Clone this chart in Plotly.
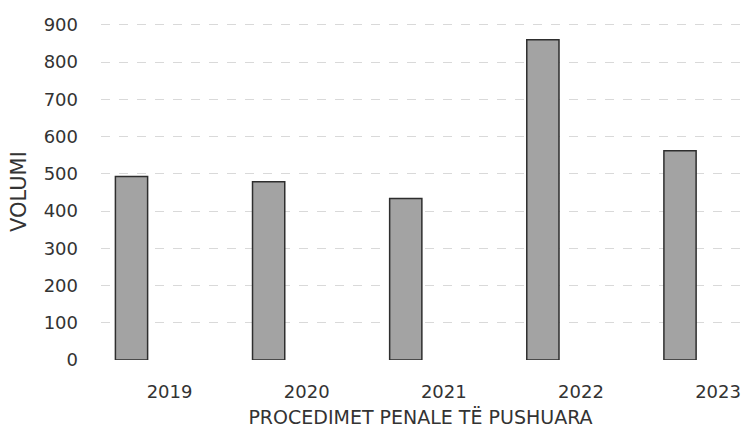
import plotly.graph_objects as go

years = ["2019", "2020", "2021", "2022", "2023"]
volumi = [493, 479, 434, 860, 562]
y_ticks = [0, 100, 200, 300, 400, 500, 600, 700, 800, 900]

fig = go.Figure()
fig.add_trace(go.Bar(
    x=years, y=volumi,
    width=0.235, offset=-0.395,
    marker=dict(color="#a3a3a3", line=dict(color="#2e2e2e", width=1.5)),
))

font = "'DejaVu Sans', sans-serif"
fig.update_layout(
    width=745, height=436,
    margin=dict(l=101, r=5, t=23, b=76),
    plot_bgcolor="white", paper_bgcolor="white",
    showlegend=False,
    font=dict(family=font, size=18, color="#333333"),
    xaxis=dict(
        type="category", range=[-0.5, 4.16], automargin=False,
        showgrid=False, showline=False, ticks="",
        tickfont=dict(size=18, color="#333333"),
        ticklabelstandoff=19,
        title=dict(text="PROCEDIMET PENALE TË PUSHUARA", font=dict(size=19, color="#333333"), standoff=9),
    ),
    yaxis=dict(
        range=[0, 905], tickvals=y_ticks, automargin=False,
        showgrid=True, gridcolor="#d9d9d9", griddash="dash", gridwidth=1,
        zeroline=False, showline=False, ticks="",
        tickfont=dict(size=18, color="#333333"),
        ticklabelstandoff=22,
        title=dict(text="VOLUMI", font=dict(size=21, color="#333333"), standoff=11),
    ),
)
fig.write_html("out.html", config={"displayModeBar": False},
               post_script="document.body.style.margin='0';")
